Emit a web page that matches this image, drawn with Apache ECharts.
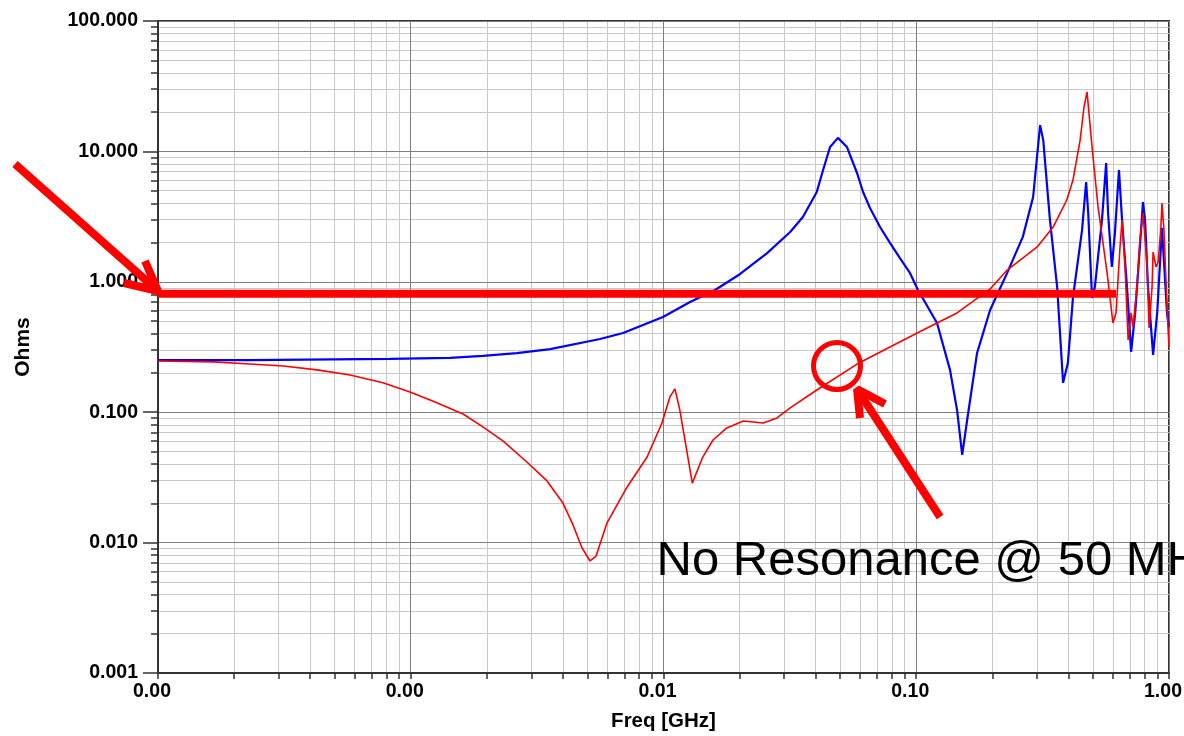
<!DOCTYPE html>
<html>
<head>
<meta charset="utf-8">
<script src="https://cdn.jsdelivr.net/npm/echarts@6/dist/echarts.min.js"></script>
<style>
  html, body { margin: 0; padding: 0; background: #fff; }
  #chart { width: 1184px; height: 736px; }
</style>
</head>
<body>
<div id="chart"></div>
<script>
const FONT = 'Arial, "Liberation Sans", sans-serif';

const xTickLabels = ['0.00', '0.00', '0.01', '0.10', '1.00'];   // 1e-4 .. 1 GHz
const yTickLabels = ['0.001', '0.010', '0.100', '1.000', '10.000', '100.000'];
const xDecades = [0.0001, 0.001, 0.01, 0.1];
const yDecades = [0.001, 0.01, 0.1, 1, 10];
const minorSteps = [2, 3, 4, 5, 6, 7, 8, 9];

// [freq GHz, |Z| ohms]
const blueTrace = [
    [0.0001, 0.251], [0.000231, 0.251], [0.000828, 0.256], [0.00143, 0.261],
    [0.00193, 0.270], [0.00263, 0.284], [0.00356, 0.305], [0.00561, 0.364],
    [0.00692, 0.405], [0.00995, 0.537], [0.01274, 0.700], [0.0160, 0.865],
    [0.0201, 1.148], [0.0257, 1.66], [0.0317, 2.41], [0.0356, 3.14],
    [0.0404, 4.89], [0.0428, 7.20], [0.0456, 10.8], [0.0490, 12.7],
    [0.0532, 10.8], [0.0583, 6.83], [0.0616, 4.88], [0.0656, 3.68],
    [0.0719, 2.63], [0.0787, 1.99], [0.0862, 1.52], [0.0944, 1.17],
    [0.1016, 0.865], [0.1208, 0.483], [0.136, 0.211], [0.145, 0.104],
    [0.152, 0.047], [0.159, 0.0871], [0.174, 0.284], [0.196, 0.608],
    [0.229, 1.17], [0.264, 2.21], [0.290, 4.47], [0.309, 15.9],
    [0.318, 12.2], [0.338, 2.98], [0.361, 0.912], [0.381, 0.168],
    [0.398, 0.238], [0.417, 0.764], [0.453, 2.50], [0.470, 5.82],
    [0.479, 3.37], [0.496, 0.752], [0.509, 0.912], [0.543, 2.98],
    [0.564, 8.15], [0.574, 3.37], [0.594, 1.30], [0.611, 2.37],
    [0.634, 7.20], [0.652, 2.98], [0.682, 0.912], [0.708, 0.290],
    [0.735, 0.577], [0.767, 1.85], [0.789, 4.09], [0.804, 2.98],
    [0.826, 0.912], [0.865, 0.275], [0.898, 0.577], [0.938, 2.59],
    [0.982, 0.577], [1.0, 0.450],
];

const redTrace = [
    [0.0001, 0.247], [0.000165, 0.243], [0.000231, 0.234], [0.000313, 0.226],
    [0.000426, 0.211], [0.000575, 0.193], [0.000776, 0.168], [0.000993, 0.143],
    [0.00122, 0.122], [0.00161, 0.0968], [0.00193, 0.0771], [0.00232, 0.0601],
    [0.00288, 0.0415], [0.00346, 0.0297], [0.00400, 0.0201], [0.00439, 0.0136],
    [0.00476, 0.0091], [0.00512, 0.00723], [0.00541, 0.00789], [0.00597, 0.0141],
    [0.00718, 0.0267], [0.00861, 0.0453], [0.00986, 0.0826], [0.0106, 0.131],
    [0.0111, 0.151], [0.0116, 0.104], [0.0130, 0.0286], [0.0143, 0.0453],
    [0.0157, 0.0612], [0.0178, 0.0757], [0.0207, 0.0857], [0.0248, 0.0826],
    [0.0281, 0.0904], [0.0317, 0.108], [0.0404, 0.148], [0.0583, 0.234],
    [0.0787, 0.316], [0.1064, 0.427], [0.145, 0.577], [0.196, 0.881],
    [0.229, 1.23], [0.301, 1.85], [0.348, 2.63], [0.394, 4.24],
    [0.417, 6.04], [0.445, 12.2], [0.461, 21.9], [0.474, 28.6],
    [0.482, 28.6], [0.496, 10.8], [0.524, 3.75], [0.569, 1.17],
    [0.600, 0.483], [0.617, 0.577], [0.640, 1.85], [0.652, 2.98],
    [0.670, 1.30], [0.689, 0.358], [0.708, 0.577], [0.721, 0.450],
    [0.746, 0.912], [0.767, 2.09], [0.789, 3.37], [0.818, 1.39],
    [0.834, 0.443], [0.857, 0.912], [0.865, 1.69], [0.889, 1.30],
    [0.906, 1.42], [0.929, 2.63], [0.938, 4.02], [0.955, 2.50],
    [0.982, 0.641], [1.0, 0.316],
];

// annotations, in data units
const targetLine = [[0.0001, 0.811], [0.617, 0.811]];
const lowArrowShaft = [[0.1242, 0.01571], [0.05829, 0.1506]];
const lowArrowHead = [[0.07522, 0.1156], [0.05829, 0.1506], [0.05990, 0.09026]];
const circleAt = [0.04858, 0.2261];
const noteAt = [0.009426, 0.00710];
const noteText = 'No Resonance @ 50 MHz';
// left arrow points at the start of the target line; it lies outside the plot,
// so its shape is given as pixel offsets from its tip
const leftArrowTip = [0.0001, 0.850];
const leftArrowOffsets = [[-143, -127], [0, 0], [-13, -30], [0, 0], [-34, -8]];

const minorOf = (decades) => decades.flatMap((d) => minorSteps.map((m) => +(m * d).toPrecision(3)));
const xMinor = minorOf(xDecades);
const yMinor = minorOf(yDecades);

const chart = echarts.init(document.getElementById('chart'));

function annotationLine(data, width) {
    return {
        type: 'line',
        data: data,
        showSymbol: false,
        symbol: 'none',
        clip: false,
        silent: true,
        z: 5,
        lineStyle: {color: '#ff0000', width: width, cap: 'butt', join: 'bevel'},
    };
}

function axisText(size) {
    return {fontFamily: FONT, fontWeight: 'bold', fontSize: size, color: '#000'};
}

const majorSplit = {show: true, lineStyle: {color: '#7f7f7f', width: 1}};
const tickLine = {color: '#333', width: 1.5};

const option = {
    animation: false,
    backgroundColor: '#fff',
    grid: {
        left: 158, right: 15, top: 21, bottom: 63,
        show: true, borderColor: '#333', borderWidth: 2,
        containLabel: false, outerBoundsMode: 'none',
    },
    xAxis: [
        {
            type: 'log',
            logBase: 10,
            min: 0.0001,
            max: 1,
            position: 'bottom',
            name: 'Freq [GHz]',
            nameLocation: 'middle',
            nameGap: 38,
            nameTextStyle: axisText(20.5),
            axisLine: {show: true, lineStyle: {color: '#333', width: 2}},
            axisTick: {show: true, length: 6, lineStyle: tickLine},
            minorTick: {show: false},
            axisLabel: Object.assign(axisText(19.5), {
                margin: 9,
                padding: [0, 12, 0, 0],
                formatter: (v) => xTickLabels[Math.round(Math.log10(v)) + 4],
            }),
            splitLine: majorSplit,
            z: 2,
        },
        {
            // minor decade ticks
            type: 'log',
            logBase: 10,
            min: 0.0001,
            max: 1,
            position: 'bottom',
            axisLine: {show: false},
            axisTick: {show: true, length: 6, lineStyle: tickLine, customValues: xMinor},
            axisLabel: {show: false},
            splitLine: {show: false},
            z: 1,
        },
    ],
    yAxis: [
        {
            type: 'log',
            logBase: 10,
            min: 0.001,
            max: 100,
            position: 'left',
            name: 'Ohms',
            nameLocation: 'middle',
            nameGap: 124,
            nameTextStyle: axisText(21),
            axisLine: {show: true, lineStyle: {color: '#333', width: 2}},
            axisTick: {show: true, length: 15, lineStyle: tickLine},
            minorTick: {show: false},
            axisLabel: Object.assign(axisText(19.5), {
                margin: 20,
                formatter: (v) => yTickLabels[Math.round(Math.log10(v)) + 3],
            }),
            splitLine: majorSplit,
            z: 2,
        },
        {
            type: 'log',
            logBase: 10,
            min: 0.001,
            max: 100,
            position: 'left',
            axisLine: {show: false},
            axisTick: {show: true, length: 7, lineStyle: tickLine, customValues: yMinor},
            axisLabel: {show: false},
            splitLine: {show: false},
            z: 1,
        },
    ],
    series: [
        {
            // carries the light minor grid
            type: 'line',
            data: [[0.0001, 0.001]],
            symbol: 'none',
            silent: true,
            z: 1,
            lineStyle: {width: 0},
            markLine: {
                silent: true,
                z: 1,
                precision: 10,
                animation: false,
                symbol: ['none', 'none'],
                label: {show: false},
                emphasis: {disabled: true},
                lineStyle: {color: '#c8c8c8', width: 1, type: 'solid'},
                data: xMinor.map((v) => ({xAxis: v})).concat(yMinor.map((v) => ({yAxis: v}))),
            },
        },
        {
            type: 'line',
            data: blueTrace,
            showSymbol: false,
            symbol: 'none',
            z: 3,
            lineStyle: {color: '#0000ff', width: 2.2},
        },
        {
            type: 'line',
            data: redTrace,
            showSymbol: false,
            symbol: 'none',
            z: 4,
            lineStyle: {color: '#ff0000', width: 1.6},
        },
        annotationLine(targetLine, 8),
        annotationLine(lowArrowShaft, 8),
        annotationLine(lowArrowHead, 8),
        {
            type: 'scatter',
            data: [circleAt],
            symbol: 'circle',
            symbolSize: 47,
            silent: true,
            z: 6,
            itemStyle: {color: 'rgba(0,0,0,0)', borderColor: '#ff0000', borderWidth: 5, opacity: 1},
        },
        {
            type: 'scatter',
            data: [noteAt],
            symbolSize: 1,
            silent: true,
            z: 7,
            itemStyle: {color: 'rgba(0,0,0,0)', opacity: 1},
            label: {
                show: true,
                position: [0, 0],
                align: 'left',
                verticalAlign: 'middle',
                formatter: noteText,
                fontFamily: FONT,
                fontWeight: 'normal',
                fontSize: 49,
                color: '#000',
                opacity: 1,
            },
        },
    ],
};

chart.setOption(option);

const tip = chart.convertToPixel({gridIndex: 0}, leftArrowTip);
chart.setOption({
    graphic: [{
        type: 'polyline',
        silent: true,
        z: 100,
        shape: {points: leftArrowOffsets.map((o) => [tip[0] + o[0], tip[1] + o[1]])},
        style: {stroke: '#ff0000', lineWidth: 8, fill: null, lineCap: 'butt', lineJoin: 'bevel'},
    }],
});
</script>
</body>
</html>
